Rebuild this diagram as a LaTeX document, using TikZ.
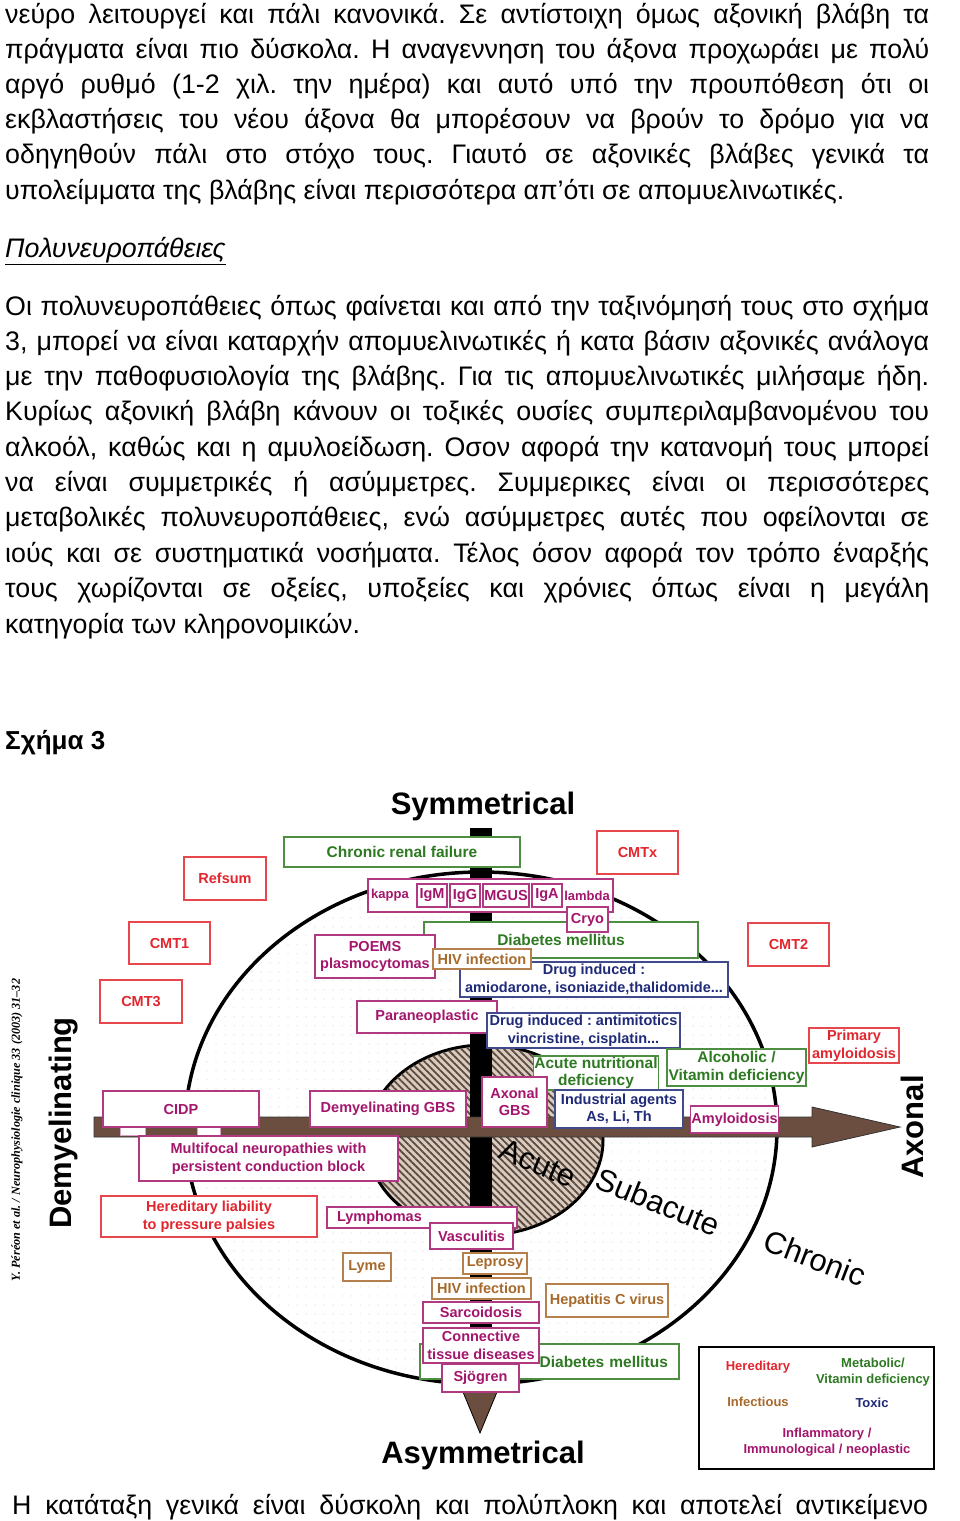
\documentclass[tikz,border=0pt]{standalone}
\usepackage{fontspec}
\setmainfont{Liberation Sans}
\newfontfamily\citefont{Liberation Serif}
\usetikzlibrary{patterns.meta}
\definecolor{HeredRed}{HTML}{E2262E}
\definecolor{MetabGreen}{HTML}{2E7A22}
\definecolor{InfecBrown}{HTML}{A86A2C}
\definecolor{ToxicNavy}{HTML}{1F2A78}
\definecolor{InflamMag}{HTML}{A3166C}
\definecolor{ArrowBrown}{HTML}{6B4E40}
\definecolor{HatchBg}{HTML}{D9CCBE}
\definecolor{HatchLine}{HTML}{5C4A40}
\newcommand{\jline}[2][924pt]{\makebox[#1][s]{#2}}
\frenchspacing

\begin{document}
\begin{tikzpicture}[x=1pt, y=-1pt,
  bodytext/.style={anchor=base west, inner sep=0pt, font=\fontsize{26.8}{35}\selectfont},
  dbox/.style={draw=#1!85, text=#1, fill=white, line width=1.2pt, inner sep=1pt,
               align=center, font=\bfseries\fontsize{14.5}{17.5}\selectfont},
  gbox/.style={dbox=MetabGreen, font=\bfseries\fontsize{15.5}{17.5}\selectfont},
  sz/.style 2 args={minimum width=#1, minimum height=#2},
  bigword/.style={font=\bfseries\fontsize{31}{31}\selectfont},
  phase/.style={font=\fontsize{31}{31}\selectfont},
  legend/.style={font=\bfseries\fontsize{13}{16}\selectfont, align=center}
]
\fill[white] (0,0) rectangle (960,1521);
\useasboundingbox (0,0) rectangle (960,1521);

% text above the figure
\foreach \ln [count=\i] in {
  {νεύρο λειτουργεί και πάλι κανονικά. Σε αντίστοιχη όμως αξονική βλάβη τα},
  {πράγματα είναι πιο δύσκολα. Η αναγεννηση του άξονα προχωράει με πολύ},
  {αργό ρυθμό (1-2 χιλ. την ημέρα) και αυτό υπό την προυπόθεση ότι οι},
  {εκβλαστήσεις του νέου άξονα θα μπορέσουν να βρούν το δρόμο για να},
  {οδηγηθούν πάλι στο στόχο τους. Γιαυτό σε αξονικές βλάβες γενικά τα}}
  \node[bodytext] (parA\i) at (5,{23+35.2*(\i-1)}) {\jline{\ln}};
\node[bodytext] (parA6) at (5,199) {υπολείμματα της βλάβης είναι περισσότερα απ’ότι σε απομυελινωτικές.};

\node[bodytext] (heading) at (5,257) {\underline{\itshape Πολυνευροπάθειες}};

\foreach \ln [count=\i] in {
  {Οι πολυνευροπάθειες όπως φαίνεται και από την ταξινόμησή τους στο σχήμα},
  {3, μπορεί να είναι καταρχήν απομυελινωτικές ή κατα βάσιν αξονικές ανάλογα},
  {με την παθοφυσιολογία της βλάβης. Για τις απομυελινωτικές μιλήσαμε ήδη.},
  {Κυρίως αξονική βλάβη κάνουν οι τοξικές ουσίες συμπεριλαμβανομένου του},
  {αλκοόλ, καθώς και η αμυλοείδωση. Οσον αφορά την κατανομή τους μπορεί},
  {να είναι συμμετρικές ή ασύμμετρες. Συμμερικες είναι οι περισσότερες},
  {μεταβολικές πολυνευροπάθειες, ενώ ασύμμετρες αυτές που οφείλονται σε},
  {ιούς και σε συστηματικά νοσήματα. Τέλος όσον αφορά τον τρόπο έναρξής},
  {τους χωρίζονται σε οξείες, υποξείες και χρόνιες όπως είναι η μεγάλη}}
  \node[bodytext] (parB\i) at (5,{315+35.3*(\i-1)}) {\jline{\ln}};
\node[bodytext] (parB10) at (5,633) {κατηγορία των κληρονομικών.};

\node[bodytext, font=\bfseries\fontsize{26}{30}\selectfont] (figlabel) at (5,749) {Σχήμα 3};

% outer ellipse and acute core
\draw[line width=3.5pt, fill=white] (481,1128) ellipse [x radius=296pt, y radius=256pt];
\fill[pattern={Dots[distance=9pt, radius=0.5pt]}, pattern color=black!25]
  (481,1128) ellipse [x radius=294pt, y radius=254pt];
\draw[line width=3pt, fill=HatchBg] (485,1140) ellipse [x radius=118pt, y radius=95pt];
\fill[pattern={Lines[angle=-45, distance=5pt, line width=1.8pt]}, pattern color=HatchLine]
  (485,1140) ellipse [x radius=117pt, y radius=94pt];

% axes
\fill[black] (470,828) rectangle (492,1392);
\filldraw[fill=ArrowBrown, draw=black, line width=0.8pt] (463,1392) -- (497,1392) -- (480,1433) -- cycle;
\filldraw[fill=ArrowBrown, draw=black!80, line width=0.8pt]
  (94,1117) -- (812,1117) -- (812,1107) -- (900,1127) -- (812,1147) -- (812,1137) -- (94,1137) -- cycle;
\filldraw[fill=white, draw=InflamMag!40, line width=0.5pt] (120,1127) rectangle (145,1135);
\filldraw[fill=white, draw=InflamMag!40, line width=0.5pt] (197,1127) rectangle (220,1135);

% axis labels
\node[bigword, anchor=base] (symm) at (483,814) {Symmetrical};
\node[bigword, anchor=base] (asymm) at (483,1463) {Asymmetrical};
\node[bigword, rotate=90] (demy) at (64,1123) {Demyelinating};
\node[bigword, rotate=90] (axon) at (912,1127) {Axonal};
\node[rotate=90, font=\citefont\bfseries\itshape\fontsize{12.2}{13}\selectfont] (cite) at (17,1130)
  {Y. Péréon et al. / Neurophysiologie clinique 33 (2003) 31–32};
\node[phase, rotate=-23] (acute) at (538,1163) {Acute};
\node[phase, rotate=-22] (subac) at (658,1202) {Subacute};
\node[phase, rotate=-21] (chron) at (815,1258) {Chronic};

% upper boxes
\node[gbox, sz={236}{30}] (crf) at (402,852) {Chronic renal failure};
\node[dbox=HeredRed, sz={82}{43}] (refsum) at (225,878.5) {Refsum};
\node[dbox=HeredRed, sz={81}{43}] (cmtx) at (637.5,852.5) {CMTx};
\node[dbox=HeredRed, sz={81}{42}] (cmt1) at (169.5,943) {CMT1};
\node[dbox=HeredRed, sz={82}{43}] (cmt3) at (141,1001.5) {CMT3};
\node[dbox=HeredRed, sz={81}{43}] (cmt2) at (788.5,944.5) {CMT2};

\node[dbox=InflamMag, sz={245}{33}] (kappa) at (490.5,895.5) {};
\node[text=InflamMag, font=\bfseries\fontsize{13}{15}\selectfont] (kappatxt) at (390,895.5) {kappa};
\node[dbox=InflamMag, sz={30}{23}] (igm) at (432,895.5) {IgM};
\node[dbox=InflamMag, sz={30}{23}] (igg) at (465,895.5) {IgG};
\node[dbox=InflamMag, sz={46}{23}] (mgus) at (506,895.5) {MGUS};
\node[dbox=InflamMag, sz={30}{23}] (iga) at (547,895.5) {IgA};
\node[text=InflamMag, font=\bfseries\fontsize{13}{15}\selectfont] (lambda) at (587,895.5) {lambda};

\node[gbox, sz={274}{36}] (dmtop) at (561,940) {Diabetes mellitus};
\node[dbox=InflamMag, sz={41}{25}] (cryo) at (587.5,919.5) {Cryo};
\node[dbox=InflamMag, sz={120}{43}] (poems) at (375,956.5) {POEMS\\plasmocytomas};
\node[dbox=ToxicNavy, sz={268}{35}] (drugA) at (594,979.5) {Drug induced :\\amiodarone, isoniazide,thalidomide...};
\node[dbox=InfecBrown, sz={98}{20}] (hivtop) at (482,959) {HIV infection};
\node[dbox=InflamMag, sz={140}{32}] (paraneo) at (427,1017) {Paraneoplastic};
\node[dbox=ToxicNavy, sz={193}{35}] (drugB) at (583.5,1030.5) {Drug induced : antimitotics\\vincristine, cisplatin...};
\node[gbox, sz={118}{34}] (acnut) at (596,1073) {Acute nutritional\\deficiency};
\node[gbox, sz={139}{37}] (alcoh) at (736.5,1067.5) {Alcoholic /\\Vitamin deficiency};
\node[dbox=HeredRed, sz={90}{35}] (primam) at (854,1045.5) {Primary\\amyloidosis};
\node[dbox=InflamMag, sz={65}{50}] (axgbs) at (514.5,1102) {Axonal\\GBS};
\node[dbox=ToxicNavy, sz={128}{38}] (indust) at (619,1109) {Industrial agents\\As, Li, Th};
\node[dbox=InflamMag, sz={85}{27}] (amyl) at (734.5,1119.5) {Amyloidosis};

% left and lower boxes
\node[dbox=InflamMag, sz={156}{36}] (cidp) at (181,1109) {CIDP};
\node[dbox=InflamMag, sz={156}{36}] (demgbs) at (388,1109) {Demyelinating GBS};
\node[dbox=InflamMag, sz={259}{45}] (multif) at (268.5,1158.5) {Multifocal neuropathies with\\persistent conduction block};
\node[dbox=HeredRed, sz={216}{41}] (hnpp) at (209,1216.5) {Hereditary liability\\to pressure palsies};
\node[dbox=InflamMag, minimum height=21, text width=170pt, inner xsep=10pt, align=left] (lymph) at (422,1217.5) {Lymphomas};
\node[dbox=InflamMag, sz={83}{26}] (vasc) at (471.5,1236) {Vasculitis};
\node[dbox=InfecBrown, sz={48}{28}] (lyme) at (367,1267) {Lyme};
\node[dbox=InfecBrown, sz={64}{21}] (lepr) at (495,1263.5) {Leprosy};
\node[dbox=InfecBrown, sz={99}{21}] (hivbot) at (481.5,1288.5) {HIV infection};
\node[dbox=InfecBrown, sz={122}{33}] (hepc) at (607,1300.5) {Hepatitis C virus};
\node[dbox=InflamMag, sz={116}{21}] (sarc) at (481,1312.5) {Sarcoidosis};
\node[gbox, minimum height=35, text width=237pt, inner xsep=11pt, align=right] (dmbot) at (549.5,1361.5) {Diabetes mellitus};
\node[dbox=InflamMag, sz={116}{35}] (conn) at (481,1345.5) {Connective\\tissue diseases};
\node[dbox=InflamMag, sz={77}{28}] (sjog) at (480.5,1378) {Sjögren};

% key
\node[draw, line width=2pt, fill=white, sz={235}{122}] (key) at (816.5,1408) {};
\node[legend, text=HeredRed] (khered) at (758,1367) {Hereditary};
\node[legend, text=MetabGreen] (kmetab) at (873,1372.5) {Metabolic/\\Vitamin deficiency};
\node[legend, text=InfecBrown] (kinfec) at (758,1402) {Infectious};
\node[legend, text=ToxicNavy] (ktoxic) at (872,1403) {Toxic};
\node[legend, text=InflamMag] (kinflam) at (827,1442) {Inflammatory /\\Immunological / neoplastic};

% text below the figure
\node[bodytext] (lastline) at (12,1514) {\jline[916pt]{Η κατάταξη γενικά είναι δύσκολη και πολύπλοκη και αποτελεί αντικείμενο}};
\end{tikzpicture}
\end{document}
